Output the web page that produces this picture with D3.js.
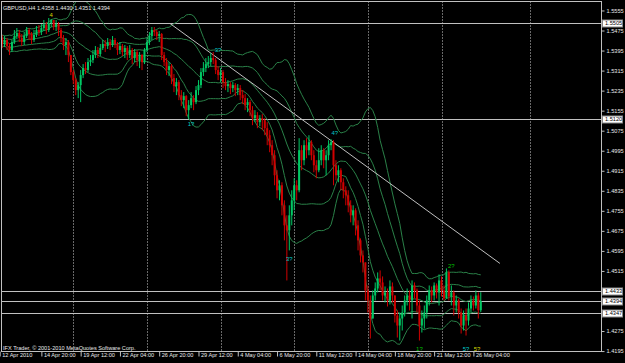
<!DOCTYPE html>
<html>
<head>
<title>GBPUSD H4</title>
<script src="https://d3js.org/d3.v7.min.js"></script>
<style>
  body { margin: 0; background: #000; }
  svg { display: block; background: #000; }
  text { font-family: "Liberation Sans", Arial, sans-serif; font-size: 5.6px; }
</style>
</head>
<body>
<svg width="625" height="363"></svg>
<script>
// H4 candles, bar 0 = 12 Apr 2010 00:00
var firstOpen = 1.5425;
var closes = [1.5445,1.5421,1.5437,1.5413,1.5397,1.5429,1.5453,1.5465,1.5445,1.5429,
  1.5453,1.5477,1.5461,1.5437,1.5457,1.5477,1.5469,1.5485,1.5497,1.5477,
  1.5505,1.5517,1.5489,1.5501,1.5477,1.5445,1.5417,1.5429,1.5377,1.5309,
  1.5277,1.5237,1.5257,1.5297,1.5325,1.5317,1.5349,1.5357,1.5377,1.5397,
  1.5381,1.5405,1.5421,1.5413,1.5429,1.5417,1.5437,1.5421,1.5397,1.5413,
  1.5389,1.5405,1.5377,1.5397,1.5365,1.5389,1.5357,1.5377,1.5349,1.5397,
  1.5429,1.5453,1.5477,1.5469,1.5453,1.5461,1.5377,1.5349,1.5317,1.5333,
  1.5285,1.5253,1.5269,1.5217,1.5197,1.5213,1.5157,1.5177,1.5205,1.5189,
  1.5237,1.5257,1.5309,1.5325,1.5341,1.5349,1.5365,1.5357,1.5317,1.5297,
  1.5309,1.5269,1.5253,1.5261,1.5245,1.5257,1.5237,1.5245,1.5217,1.5205,
  1.5177,1.5189,1.5157,1.5125,1.5137,1.5109,1.5125,1.5117,1.5085,1.5057,
  1.5017,1.4977,1.4897,1.4837,1.4857,1.4777,1.4697,1.4677,1.4737,1.4797,
  1.4857,1.4837,1.4997,1.4957,1.5017,1.4997,1.5029,1.4977,1.4937,1.4917,
  1.4957,1.4997,1.4957,1.4977,1.5017,1.5029,1.4937,1.4897,1.4917,1.4869,
  1.4837,1.4817,1.4777,1.4737,1.4757,1.4697,1.4637,1.4577,1.4549,1.4437,
  1.4397,1.4325,1.4417,1.4445,1.4485,1.4469,1.4417,1.4429,1.4397,1.4453,
  1.4417,1.4337,1.4297,1.4325,1.4349,1.4397,1.4417,1.4397,1.4457,1.4437,
  1.4377,1.4297,1.4325,1.4349,1.4397,1.4437,1.4417,1.4457,1.4429,1.4477,
  1.4437,1.4405,1.4509,1.4413,1.4429,1.4377,1.4397,1.4349,1.4297,1.4337,
  1.4317,1.4365,1.4397,1.4377,1.4417,1.4358,1.4394];
var highs = [1.5469,1.5457,1.5453,1.5445,1.5425,1.5437,1.5477,1.5485,1.5477,1.5461,
  1.5469,1.5489,1.5485,1.5469,1.5477,1.5493,1.5497,1.5501,1.5517,1.5509,
  1.5525,1.5521,1.5513,1.5517,1.5509,1.5485,1.5457,1.5445,1.5437,1.5377,
  1.5317,1.5285,1.5269,1.5317,1.5341,1.5349,1.5365,1.5377,1.5397,1.5413,
  1.5409,1.5421,1.5437,1.5437,1.5445,1.5441,1.5453,1.5445,1.5429,1.5429,
  1.5421,1.5417,1.5413,1.5417,1.5405,1.5401,1.5397,1.5389,1.5381,1.5405,
  1.5445,1.5469,1.5489,1.5489,1.5477,1.5473,1.5465,1.5389,1.5365,1.5349,
  1.5341,1.5301,1.5285,1.5277,1.5237,1.5229,1.5217,1.5197,1.5229,1.5217,
  1.5253,1.5277,1.5325,1.5349,1.5365,1.5373,1.5385,1.5389,1.5365,1.5333,
  1.5325,1.5317,1.5285,1.5277,1.5269,1.5269,1.5265,1.5261,1.5257,1.5237,
  1.5221,1.5205,1.5197,1.5173,1.5157,1.5149,1.5137,1.5141,1.5125,1.5109,
  1.5077,1.5037,1.4997,1.4917,1.4877,1.4869,1.4797,1.4737,1.4777,1.4837,
  1.4885,1.4877,1.5045,1.5017,1.5037,1.5045,1.5057,1.5037,1.4997,1.4957,
  1.5005,1.5017,1.5005,1.4997,1.5037,1.5041,1.5037,1.4957,1.4937,1.4925,
  1.4885,1.4853,1.4837,1.4797,1.4777,1.4765,1.4717,1.4645,1.4597,1.4549,
  1.4457,1.4417,1.4437,1.4469,1.4509,1.4517,1.4493,1.4453,1.4445,1.4477,
  1.4469,1.4405,1.4357,1.4349,1.4377,1.4417,1.4445,1.4437,1.4477,1.4469,
  1.4445,1.4397,1.4357,1.4377,1.4417,1.4457,1.4453,1.4469,1.4465,1.4501,
  1.4493,1.4457,1.4525,1.4517,1.4457,1.4437,1.4417,1.4405,1.4365,1.4357,
  1.4365,1.4389,1.4417,1.4413,1.4437,1.4429,1.4430];
var lows = [1.5417,1.5405,1.5409,1.5397,1.5377,1.5389,1.5421,1.5441,1.5429,1.5413,
  1.5417,1.5445,1.5437,1.5421,1.5429,1.5449,1.5453,1.5457,1.5473,1.5461,
  1.5469,1.5489,1.5477,1.5473,1.5453,1.5429,1.5397,1.5377,1.5349,1.5297,
  1.5261,1.5217,1.5205,1.5189,1.5285,1.5301,1.5309,1.5333,1.5345,1.5365,
  1.5365,1.5373,1.5397,1.5389,1.5401,1.5397,1.5409,1.5405,1.5377,1.5381,
  1.5373,1.5365,1.5357,1.5365,1.5341,1.5349,1.5333,1.5325,1.5317,1.5341,
  1.5389,1.5417,1.5437,1.5453,1.5437,1.5429,1.5357,1.5333,1.5297,1.5293,
  1.5261,1.5229,1.5217,1.5197,1.5173,1.5165,1.5133,1.5121,1.5165,1.5157,
  1.5181,1.5217,1.5245,1.5293,1.5309,1.5325,1.5333,1.5341,1.5301,1.5277,
  1.5269,1.5245,1.5237,1.5229,1.5221,1.5229,1.5213,1.5217,1.5197,1.5181,
  1.5157,1.5149,1.5133,1.5097,1.5109,1.5085,1.5093,1.5077,1.5057,1.5017,
  1.4989,1.4937,1.4857,1.4805,1.4797,1.4737,1.4637,1.4477,1.4597,1.4697,
  1.4757,1.4797,1.4829,1.4917,1.4937,1.4965,1.4977,1.4957,1.4909,1.4885,
  1.4909,1.4937,1.4925,1.4897,1.4957,1.4997,1.4857,1.4877,1.4869,1.4837,
  1.4805,1.4777,1.4749,1.4709,1.4697,1.4657,1.4597,1.4549,1.4509,1.4397,
  1.4349,1.4245,1.4325,1.4397,1.4429,1.4437,1.4397,1.4389,1.4373,1.4381,
  1.4389,1.4309,1.4249,1.4237,1.4277,1.4333,1.4377,1.4357,1.4325,1.4405,
  1.4349,1.4237,1.4269,1.4285,1.4325,1.4377,1.4389,1.4397,1.4405,1.4377,
  1.4413,1.4397,1.4405,1.4397,1.4377,1.4337,1.4349,1.4325,1.4265,1.4277,
  1.4257,1.4297,1.4349,1.4357,1.4365,1.4325,1.4351];

var priceTicks = [1.5555,1.5475,1.5395,1.5315,1.5235,1.5155,1.5075,1.4995,1.4915,
  1.4835,1.4755,1.4675,1.4595,1.4515,1.4275,1.4195];
var levelLines = [1.5505, 1.5120, 1.4433, 1.4394, 1.4347];
var weekStarts = [30, 60, 90, 120, 150, 180, 216];
var timeBars = [0,17,33,49,65,81,97,113,129,145,161,177,193];
var timeTexts = ["12 Apr 2010","14 Apr 20:00","19 Apr 12:00","22 Apr 04:00","26 Apr 20:00",
  "29 Apr 12:00","4 May 04:00","6 May 20:00","11 May 12:00","14 May 04:00",
  "18 May 20:00","21 May 12:00","26 May 04:00"];
var trendLine = [[69.4, 1.5503], [203.8, 1.4545]];
var waveBars = [21, 89, 78, 136.5, 118, 184, 171, 190, 194.5];
var wavePrices = [1.5537, 1.5397, 1.5101, 1.5065, 1.4565, 1.4537, 1.4205, 1.4205, 1.4205];
var waveTexts = ["4", "3?", "1?", "4?", "3?", "2?", "1?", "5?", "5?"];
var waveColors = ["#d8d800","#00c8c8","#00c8c8","#00c8c8","#00c8c8","#00c000","#00c000","#00c8c8","#d8d800"];
// bollinger settings: period and the two deviations drawn
var bbPeriod = 20;
var bbDevs = [2, 1];

var svg = d3.select("svg");
var pLeft = 1.5, pTop = 1.5, pRight = 601.5, pBottom = 351.5;

var x = d3.scaleLinear().domain([30, 180]).range([73.3, 441.5]);
var y = d3.scaleLinear().domain([1.5505, 1.4347]).range([23, 313]);

var bars = closes.map(function(c, i) {
  var o = i == 0 ? firstOpen : closes[i - 1];
  return {i: i, o: o, c: c, h: Math.max(highs[i], o, c), l: Math.min(lows[i], o, c)};
});

// bollinger: mean and population sd of the last closes
var stats = closes.map(function(c, i) {
  var win = closes.slice(Math.max(0, i - bbPeriod + 1), i + 1);
  var s = win.length > 1 ? d3.deviation(win) * Math.sqrt((win.length - 1) / win.length) : 0;
  return {i: i, m: d3.mean(win), s: s};
});

svg.append("defs").append("clipPath").attr("id", "plotclip")
  .append("rect").attr("x", pLeft).attr("y", pTop).attr("width", pRight - pLeft).attr("height", pBottom - pTop);
var plot = svg.append("g").attr("clip-path", "url(#plotclip)");

// weekly separators
plot.selectAll(".sep").data(weekStarts).enter().append("line")
  .attr("x1", function(d) { return Math.round(x(d)) + 0.5; })
  .attr("x2", function(d) { return Math.round(x(d)) + 0.5; })
  .attr("y1", pTop).attr("y2", pBottom)
  .attr("stroke", "#d0d0d0").attr("stroke-dasharray", "1,2");

// horizontal levels
plot.selectAll(".lvl").data(levelLines).enter().append("line")
  .attr("x1", pLeft).attr("x2", pRight)
  .attr("y1", function(d) { return Math.round(y(d)) + 0.5; })
  .attr("y2", function(d) { return Math.round(y(d)) + 0.5; })
  .attr("stroke", "#c0c0c0");

// bands
var bandOffsets = [0];
bbDevs.forEach(function(k) { bandOffsets.push(k, -k); });
bandOffsets.forEach(function(k) {
  plot.append("path").datum(stats)
    .attr("fill", "none").attr("stroke", "#2a8048").attr("stroke-width", 1)
    .attr("d", d3.line().x(function(d) { return x(d.i); }).y(function(d) { return y(d.m + k * d.s); }));
});

// trend line
plot.append("line")
  .attr("x1", x(trendLine[0][0])).attr("y1", y(trendLine[0][1]))
  .attr("x2", x(trendLine[1][0])).attr("y2", y(trendLine[1][1]))
  .attr("stroke", "#c0c0c0").attr("stroke-width", 1);

// candles
var candle = plot.selectAll(".bar").data(bars).enter().append("g");
candle.append("line")
  .attr("x1", function(d) { return x(d.i); }).attr("x2", function(d) { return x(d.i); })
  .attr("y1", function(d) { return y(d.h); }).attr("y2", function(d) { return y(d.l); })
  .attr("stroke", function(d) { return d.c >= d.o ? "#00c864" : "#d00000"; });
candle.append("rect")
  .attr("x", function(d) { return x(d.i) - 1; }).attr("width", 2)
  .attr("y", function(d) { return y(Math.max(d.o, d.c)); })
  .attr("height", function(d) { return Math.max(1, y(Math.min(d.o, d.c)) - y(Math.max(d.o, d.c))); })
  .attr("fill", function(d) { return d.c >= d.o ? "#00c864" : "#d00000"; });

// wave labels
plot.selectAll(".wave").data(waveTexts).enter().append("text")
  .attr("x", function(d, i) { return x(waveBars[i]); })
  .attr("y", function(d, i) { return y(wavePrices[i]); })
  .attr("dy", "0.35em").attr("text-anchor", "middle")
  .attr("fill", function(d, i) { return waveColors[i]; })
  .style("font-size", "6px")
  .text(function(d) { return d; });

// frame
svg.append("rect").attr("x", pLeft).attr("y", pTop).attr("width", pRight - pLeft).attr("height", pBottom - pTop)
  .attr("fill", "none").attr("stroke", "#c0c0c0");

// price axis
var yAxis = d3.axisRight(y).tickValues(priceTicks).tickSize(3).tickPadding(2).tickFormat(d3.format(".4f"));
var ya = svg.append("g").attr("transform", "translate(" + pRight + ",0)").call(yAxis);
ya.select(".domain").remove();
ya.selectAll("line").attr("stroke", "#c0c0c0");
ya.selectAll("text").attr("fill", "#e8e8e8").style("font-size", "5.6px").style("font-family", "Liberation Sans, Arial, sans-serif");

// boxed level labels
var box = svg.selectAll(".box").data(levelLines).enter().append("g")
  .attr("transform", function(d) { return "translate(602.5," + (Math.round(y(d)) + 0.5) + ")"; });
box.append("rect").attr("x", 0).attr("y", -3.5).attr("width", 20).attr("height", 7)
  .attr("fill", "#fff").attr("stroke", "#888");
box.append("text").attr("x", 2.5).attr("dy", "0.35em").attr("fill", "#000")
  .text(function(d) { return d3.format(".4f")(d); });

// time axis
var xAxis = d3.axisBottom(x).tickValues(timeBars).tickSize(5).tickFormat(function(d, i) { return timeTexts[i]; });
var xa = svg.append("g").attr("transform", "translate(0," + pBottom + ")").call(xAxis);
xa.select(".domain").remove();
xa.selectAll("line").attr("stroke", "#c0c0c0");
xa.selectAll("text").attr("fill", "#e8e8e8").attr("text-anchor", "start").attr("x", 2).attr("y", 2)
  .style("font-size", "5.6px").style("font-family", "Liberation Sans, Arial, sans-serif");

// title and copyright
svg.append("text").attr("x", 3).attr("y", 9.5).attr("fill", "#e8e8e8")
  .text("GBPUSD,H4  1.4358 1.4430 1.4351 1.4394");
svg.append("text").attr("x", 3).attr("y", 349.5).attr("fill", "#e8e8e8")
  .text("IFX Trader, \u00a9 2001-2010 MetaQuotes Software Corp.");
</script>
</body>
</html>
